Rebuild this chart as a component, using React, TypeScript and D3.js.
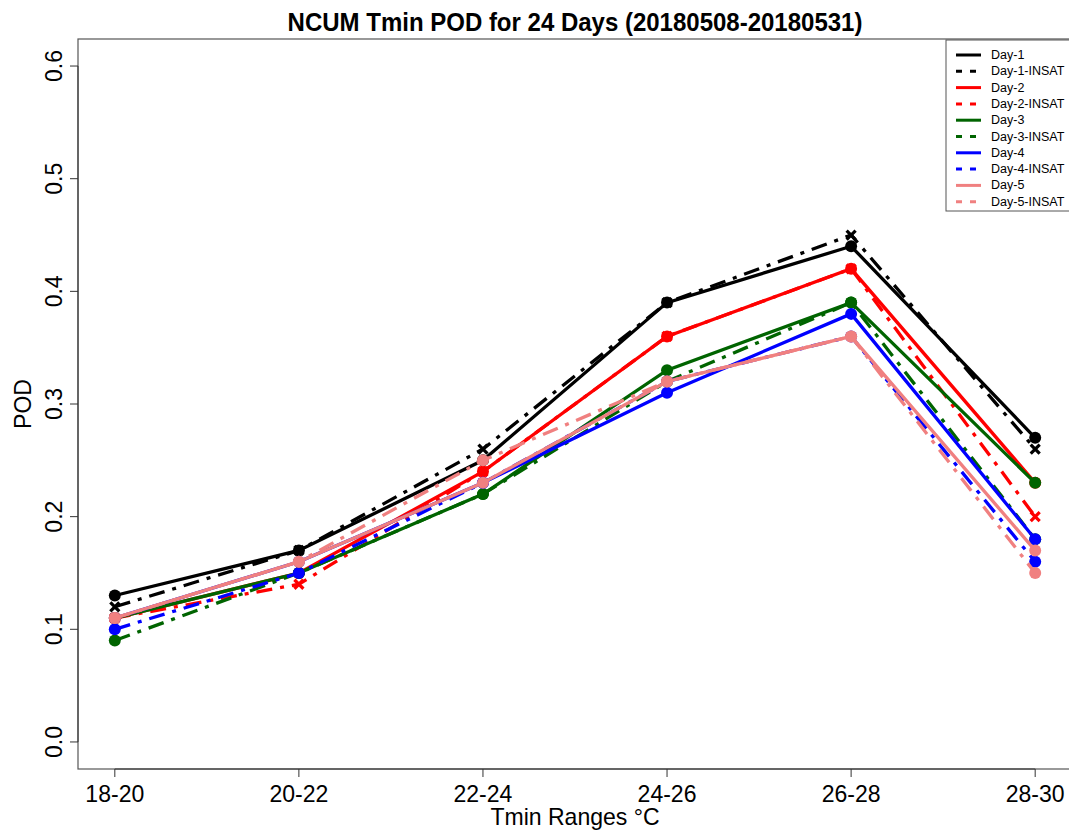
import { useEffect, useRef } from 'react'
import * as d3 from 'd3'

const categories = ['18-20', '20-22', '22-24', '24-26', '26-28', '28-30']
const yTicks = [0.0, 0.1, 0.2, 0.3, 0.4, 0.5, 0.6]

const day1 = [0.13, 0.17, 0.25, 0.39, 0.44, 0.27]
const day1Insat = [0.12, 0.17, 0.26, 0.39, 0.45, 0.26]
const day2 = [0.11, 0.15, 0.24, 0.36, 0.42, 0.23]
const day2Insat = [0.11, 0.14, 0.24, 0.36, 0.42, 0.2]
const day3 = [0.11, 0.15, 0.22, 0.33, 0.39, 0.23]
const day3Insat = [0.09, 0.15, 0.22, 0.32, 0.39, 0.18]
const day4 = [0.11, 0.16, 0.23, 0.31, 0.38, 0.18]
const day4Insat = [0.1, 0.15, 0.23, 0.32, 0.36, 0.16]
const day5 = [0.11, 0.16, 0.23, 0.32, 0.36, 0.17]
const day5Insat = [0.11, 0.16, 0.25, 0.32, 0.36, 0.15]

const seriesNames = [
  'Day-1', 'Day-1-INSAT', 'Day-2', 'Day-2-INSAT', 'Day-3',
  'Day-3-INSAT', 'Day-4', 'Day-4-INSAT', 'Day-5', 'Day-5-INSAT',
]
const seriesValues = [day1, day1Insat, day2, day2Insat, day3, day3Insat, day4, day4Insat, day5, day5Insat]
const colors = ['#000000', '#ff0000', '#006400', '#0000ff', '#f08080']
// x markers only for the black and red INSAT lines, circles elsewhere
const crossMarker = [false, true, false, true, false, false, false, false, false, false]

export default function App() {
  const svgRef = useRef<SVGSVGElement>(null)

  useEffect(() => {
    if (!svgRef.current) return
    const svg = d3.select(svgRef.current)
    svg.selectAll('*').remove()

    const width = 1069
    const height = 831
    const left = 78
    const right = 1072
    const top = 39
    const bottom = 769
    const font = 'Liberation Sans, Arial, sans-serif'

    // R-style 4% axis extension
    const x = d3.scaleLinear().domain([0.8, 6.2]).range([left, right])
    const y = d3.scaleLinear().domain([-0.024, 0.624]).range([bottom, top])

    svg.attr('width', width).attr('height', height)

    // slightly narrowed text, the original uses a condensed Helvetica
    const addText = (px: number, py: number, str: string, size: number, rotate = 0, bold = false) =>
      svg
        .append('text')
        .attr('transform', `translate(${px},${py}) rotate(${rotate}) scale(0.96,1)`)
        .attr('text-anchor', 'middle')
        .attr('font-family', font)
        .attr('font-weight', bold ? 'bold' : 'normal')
        .attr('font-size', size)
        .text(str)

    const line = d3
      .line<number>()
      .x((_, i) => x(i + 1))
      .y(d => y(d))

    seriesValues.forEach((vals, s) => {
      const color = colors[Math.floor(s / 2)]
      const dashed = s % 2 === 1
      svg
        .append('path')
        .datum(vals)
        .attr('fill', 'none')
        .attr('stroke', color)
        .attr('stroke-width', 3.3)
        .attr('stroke-dasharray', dashed ? '16,8,4,8' : null)
        .attr('d', line)

      const g = svg.append('g')
      vals.forEach((v, i) => {
        const cx = x(i + 1)
        const cy = y(v)
        if (crossMarker[s]) {
          const r = 4.5
          g.append('path')
            .attr('d', `M${cx - r},${cy - r}L${cx + r},${cy + r}M${cx - r},${cy + r}L${cx + r},${cy - r}`)
            .attr('stroke', color)
            .attr('stroke-width', 3.2)
        } else {
          g.append('circle')
            .attr('cx', cx)
            .attr('cy', cy)
            .attr('r', 6)
            .attr('fill', color)
        }
      })
    })

    // frame
    svg
      .append('rect')
      .attr('x', left)
      .attr('y', top)
      .attr('width', right - left)
      .attr('height', bottom - top)
      .attr('fill', 'none')
      .attr('stroke', '#555')
      .attr('stroke-width', 1.2)

    // x axis
    categories.forEach((c, i) => {
      const px = x(i + 1)
      svg
        .append('line')
        .attr('x1', px)
        .attr('x2', px)
        .attr('y1', bottom)
        .attr('y2', bottom + 8)
        .attr('stroke', '#333')
      addText(px, 802, c, 24)
    })
    svg
      .append('line')
      .attr('x1', x(1))
      .attr('x2', x(6))
      .attr('y1', bottom)
      .attr('y2', bottom)
      .attr('stroke', '#333')

    // y axis
    yTicks.forEach(t => {
      const py = y(t)
      svg
        .append('line')
        .attr('x1', left)
        .attr('x2', left - 8)
        .attr('y1', py)
        .attr('y2', py)
        .attr('stroke', '#333')
      addText(left - 16, py, t.toFixed(1), 24, -90)
    })
    svg
      .append('line')
      .attr('x1', left)
      .attr('x2', left)
      .attr('y1', y(0))
      .attr('y2', y(0.6))
      .attr('stroke', '#333')

    // titles
    addText(575, 31, 'NCUM Tmin POD for 24 Days (20180508-20180531)', 25, 0, true)
    addText(575, 825, 'Tmin Ranges °C', 24)
    addText(31, (top + bottom) / 2, 'POD', 24, -90)

    // legend
    const legend = svg.append('g')
    legend
      .append('rect')
      .attr('x', 946)
      .attr('y', 40)
      .attr('width', 130)
      .attr('height', 171)
      .attr('fill', 'white')
      .attr('stroke', '#555')
    seriesNames.forEach((name, s) => {
      const ly = 55 + s * 16.3
      legend
        .append('line')
        .attr('x1', 956)
        .attr('x2', 981)
        .attr('y1', ly)
        .attr('y2', ly)
        .attr('stroke', colors[Math.floor(s / 2)])
        .attr('stroke-width', 3)
        .attr('stroke-dasharray', s % 2 === 1 ? '6,8' : null)
      legend
        .append('text')
        .attr('x', 991)
        .attr('y', ly + 4)
        .attr('font-family', font)
        .attr('font-size', 12.5)
        .text(name)
    })
  }, [])

  return <svg ref={svgRef} style={{ position: 'absolute', left: 0, top: 0 }} />
}
